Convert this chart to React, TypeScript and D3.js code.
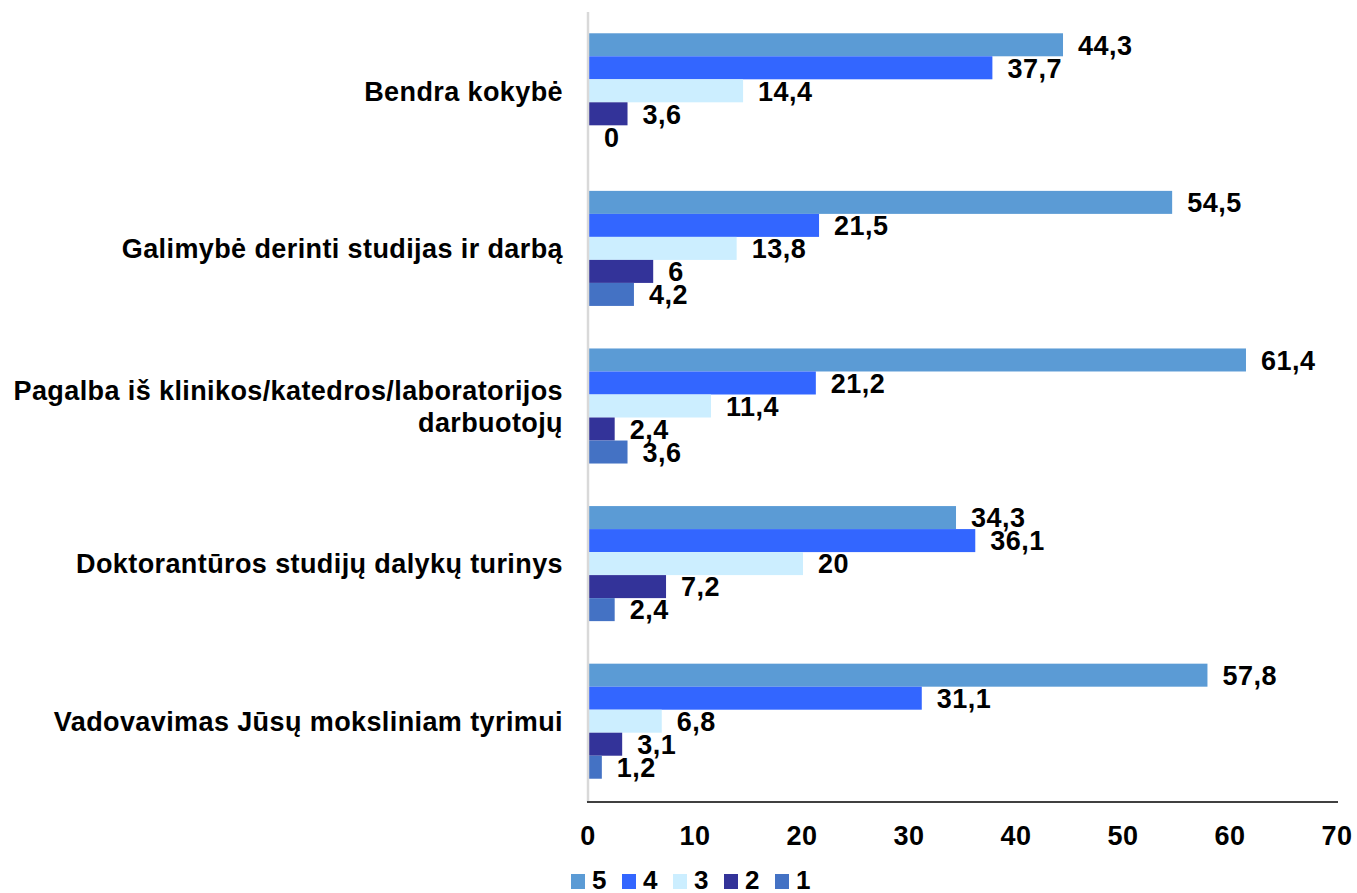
import React from "react";
import * as d3 from "d3";

const categories = [
  "Bendra kokybė",
  "Galimybė derinti studijas ir darbą",
  "Pagalba iš klinikos/katedros/laboratorijos\ndarbuotojų",
  "Doktorantūros studijų dalykų turinys",
  "Vadovavimas Jūsų moksliniam tyrimui",
];
const seriesNames = ["5", "4", "3", "2", "1"];
const s5 = [44.3, 54.5, 61.4, 34.3, 57.8];
const s4 = [37.7, 21.5, 21.2, 36.1, 31.1];
const s3 = [14.4, 13.8, 11.4, 20, 6.8];
const s2 = [3.6, 6, 2.4, 7.2, 3.1];
const s1 = [0, 4.2, 3.6, 2.4, 1.2];
const seriesValues = [s5, s4, s3, s2, s1];
const colors = ["#5b9bd5", "#3366ff", "#cceeff", "#333399", "#4472c4"];
const xTicks = [0, 10, 20, 30, 40, 50, 60, 70];

const W = 1357;
const H = 893;
const FONT = "'Liberation Sans', Arial, sans-serif";

export default function App() {
  const x = d3.scaleLinear().domain([0, 70]).range([588, 1337]);
  const y = d3
    .scaleBand<string>()
    .domain(categories)
    .range([12, 800])
    .paddingInner(0.27)
    .paddingOuter(0.135);
  const yi = d3
    .scaleBand<string>()
    .domain(seriesNames)
    .range([0, y.bandwidth()]);
  const fmt = (v: number) => String(v).replace(".", ",");

  return (
    <svg
      width={W}
      height={H}
      style={{ position: "absolute", left: 0, top: 0, background: "#fff" }}
      fontFamily={FONT}
      fontWeight="bold"
    >
      {categories.map((c, ci) => {
        const g0 = y(c)!;
        return (
          <g key={c}>
            {seriesNames.map((s, si) => {
              const v = seriesValues[si][ci];
              const by = g0 + yi(s)!;
              return (
                <g key={s}>
                  <rect
                    x={x(0) + 1}
                    y={by}
                    width={Math.max(0, x(v) - x(0))}
                    height={yi.bandwidth()}
                    fill={colors[si]}
                  />
                  <text
                    x={x(v) + 16}
                    y={by + yi.bandwidth() / 2}
                    dy="0.36em"
                    fontSize={27}
                    letterSpacing={0.5}
                    fill="#000"
                  >
                    {fmt(v)}
                  </text>
                </g>
              );
            })}
            {(() => {
              const lines = c.split("\n");
              const cy = g0 + y.bandwidth() / 2;
              const lh = 32;
              return lines.map((ln, li) => (
                <text
                  key={li}
                  x={563}
                  y={cy + (li - (lines.length - 1) / 2) * lh}
                  dy="0.36em"
                  textAnchor="end"
                  fontSize={27}
                  letterSpacing={0.4}
                  fill="#000"
                >
                  {ln}
                </text>
              ));
            })()}
          </g>
        );
      })}
      <line x1={588} x2={588} y1={12} y2={802} stroke="#d9d9d9" strokeWidth={2.5} />
      <line x1={587} x2={1338} y1={802} y2={802} stroke="#404040" strokeWidth={2} />
      {xTicks.map((t) => (
        <text
          key={t}
          x={x(t)}
          y={845}
          textAnchor="middle"
          fontSize={27}
          letterSpacing={0.5}
          fill="#000"
        >
          {t}
        </text>
      ))}
      {seriesNames.map((s, si) => (
        <g key={s} transform={`translate(${571 + si * 51},0)`}>
          <rect x={0} y={874} width={14} height={15} fill={colors[si]} />
          <text x={21} y={889} fontSize={26} fill="#000">
            {s}
          </text>
        </g>
      ))}
    </svg>
  );
}
